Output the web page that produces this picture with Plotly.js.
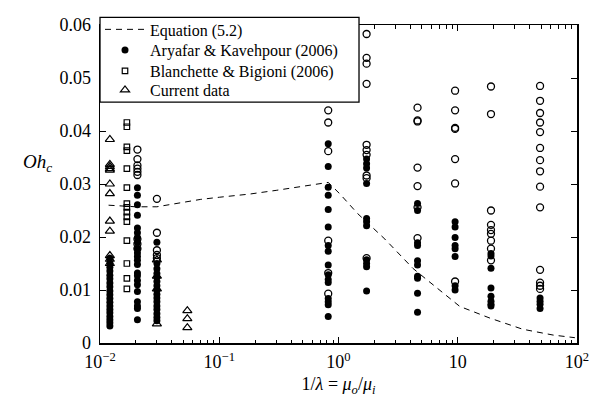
<!DOCTYPE html>
<html><head><meta charset="utf-8">
<script src="https://cdn.plot.ly/plotly-3.0.1.min.js"></script>
<style>html,body{margin:0;padding:0;background:#fff;}#chart{width:589px;height:409px;}</style>
</head><body><div id="chart"></div>
<script>
// Equation (5.2) curve
const eqX = [0.0118, 0.02, 0.03, 0.05, 0.07, 0.1, 0.18, 0.3, 0.5, 0.82, 1.03, 1.45, 2.45, 4.2, 5.6, 7.1, 10.4, 18.6, 35, 63, 96];
const eqY = [0.0260, 0.0257, 0.0257, 0.0265, 0.0271, 0.0275, 0.0281, 0.0288, 0.0296, 0.0303, 0.0281, 0.0244, 0.0196, 0.0141, 0.0118, 0.0099, 0.0069, 0.0047, 0.0026, 0.0015, 0.0010];

// Aryafar & Kavehpour (2006), filled circles
const akCols = [0.0121, 0.0206, 0.030, 0.82, 1.72, 4.6, 9.5, 19, 49];
const akVals = [
  [0.0160, 0.0151, 0.0143, 0.0136, 0.0128, 0.0121, 0.0113, 0.0106, 0.0098, 0.0091, 0.0084, 0.0077, 0.0070, 0.0063, 0.0057, 0.0050, 0.0044, 0.0038, 0.0032],
  [0.0293, 0.0279, 0.0261, 0.0241, 0.0217, 0.0208, 0.0199, 0.0190, 0.0178, 0.0170, 0.0163, 0.0156, 0.0148, 0.0132, 0.0127, 0.0118, 0.0110, 0.0097, 0.0078, 0.0070, 0.0065, 0.0044],
  [0.0190, 0.0150, 0.0140, 0.0131, 0.0124, 0.0116, 0.0108, 0.0100, 0.0092, 0.0085, 0.0078, 0.0070, 0.0063, 0.0055, 0.0048, 0.0042],
  [0.0376, 0.0333, 0.0294, 0.0279, 0.0252, 0.0219, 0.0184, 0.0173, 0.0147, 0.0129, 0.0120, 0.0114, 0.0084, 0.0078, 0.0072, 0.0050],
  [0.0347, 0.0338, 0.0330, 0.0301, 0.0235, 0.0229, 0.0221, 0.0157, 0.0150, 0.0144, 0.0098],
  [0.0263, 0.0250, 0.0189, 0.0184, 0.0155, 0.0147, 0.0126, 0.0122, 0.0094, 0.0058],
  [0.0229, 0.0219, 0.0199, 0.0184, 0.0178, 0.0163, 0.0108, 0.0100],
  [0.0169, 0.0164, 0.0141, 0.0104, 0.0088, 0.0079, 0.0073, 0.0070],
  [0.0085, 0.0079, 0.0073, 0.0065]
];

// Open circles (not in legend)
const openCols = [0.0206, 0.030, 0.82, 1.72, 4.6, 9.5, 19, 49];
const openVals = [
  [0.0365, 0.0347, 0.0335, 0.0329, 0.0323, 0.0317, 0.0196, 0.0187, 0.0178],
  [0.0272, 0.0208, 0.0175, 0.0166, 0.0160],
  [0.0439, 0.0416, 0.0362, 0.0193, 0.0132, 0.0093],
  [0.0583, 0.0538, 0.0527, 0.0489, 0.0374, 0.0364, 0.0355, 0.0316, 0.0311, 0.0160],
  [0.0444, 0.0420, 0.0418, 0.0331, 0.0296, 0.0256, 0.0198],
  [0.0476, 0.0439, 0.0406, 0.0404, 0.0347, 0.0301, 0.0116],
  [0.0484, 0.0432, 0.0250, 0.0223, 0.0213, 0.0206, 0.0193, 0.0178, 0.0156],
  [0.0485, 0.0457, 0.0434, 0.0416, 0.0398, 0.0368, 0.0345, 0.0324, 0.0295, 0.0256, 0.0138, 0.0114, 0.0108, 0.0102]
];

// Blanchette & Bigioni (2006), squares
const bbCols = [0.0168];
const bbVals = [
  [0.0416, 0.0408, 0.0370, 0.0363, 0.0329, 0.0293, 0.0263, 0.0256, 0.0247, 0.0238, 0.0229, 0.0193, 0.0150, 0.0122, 0.0102]
];

// Current data, triangles
const curCols = [0.0121, 0.030, 0.054];
const curVals = [
  [0.0384, 0.0337, 0.0333, 0.0329, 0.0326, 0.0300, 0.0282, 0.0230, 0.0211, 0.0165, 0.0158, 0.0150],
  [0.0157, 0.0126, 0.0102, 0.0036],
  [0.0061, 0.0046, 0.0029]
];

const xTickVals = [0.01, 0.1, 1, 10, 100];
const xTickText = ['10<sup>−2</sup>', '10<sup>−1</sup>', '10<sup>0</sup>', '10', '10<sup>2</sup>'];
const yTickVals = [0, 0.01, 0.02, 0.03, 0.04, 0.05, 0.06];
const yTickText = ['0', '0.01', '0.02', '0.03', '0.04', '0.05', '0.06'];

function flatten(cols, vals) {
  const xs = [], ys = [];
  cols.forEach((c, i) => vals[i].forEach(v => { xs.push(c); ys.push(v); }));
  return {x: xs, y: ys};
}
const minorX = [];
[0.01, 0.1, 1, 10].forEach(d => { for (let k = 2; k <= 9; k++) minorX.push(d * k); });

const FONT = 'Liberation Serif';
const ak = flatten(akCols, akVals), op = flatten(openCols, openVals), bb = flatten(bbCols, bbVals), cu = flatten(curCols, curVals);

const traces = [
  {x: op.x, y: op.y, mode: 'markers', name: 'open', showlegend: false,
   marker: {symbol: 'circle-open', size: 7, color: 'black', line: {width: 1.3, color: 'black'}}},
  {x: eqX, y: eqY, mode: 'lines', name: 'Equation (5.2)', legend: 'legend',
   line: {color: 'black', width: 1, dash: '6px,5px'}},
  {x: ak.x, y: ak.y, mode: 'markers', name: 'Aryafar &amp; Kavehpour (2006)', legend: 'legend2',
   marker: {symbol: 'circle', size: 7, color: 'black'}},
  {x: bb.x, y: bb.y, mode: 'markers', name: 'Blanchette &amp; Bigioni (2006)', legend: 'legend3',
   marker: {symbol: 'square-open', size: 5.5, color: 'black', line: {width: 1.2, color: 'black'}}},
  {x: cu.x, y: cu.y, mode: 'markers', name: 'Current data', legend: 'legend4',
   marker: {symbol: 'triangle-up-open', size: 8, color: 'black', line: {width: 1.2, color: 'black'}}}
];

function legendAt(yPaper) {
  return {x: 0, y: yPaper, xanchor: 'left', yanchor: 'middle', bgcolor: 'rgba(0,0,0,0)',
          borderwidth: 0, font: {family: FONT, size: 16, color: 'black'}, itemwidth: 40};
}

const layout = {
  width: 589, height: 409,
  margin: {l: 100, r: 12, t: 13, b: 66},
  paper_bgcolor: 'white', plot_bgcolor: 'white',
  font: {family: FONT, size: 17, color: 'black'},
  showlegend: true,
  legend: legendAt(0.986),
  legend2: legendAt(0.9212),
  legend3: legendAt(0.8555),
  legend4: legendAt(0.7955),
  shapes: [{type: 'rect', xref: 'paper', yref: 'paper', x0: 0, x1: 0.543, y0: 0.7576, y1: 1.0242,
            layer: 'above', fillcolor: 'white', line: {color: 'black', width: 1.3}}],
  xaxis: {type: 'log', range: [-2, 2], tickmode: 'array', tickvals: xTickVals, ticktext: xTickText,
          ticks: 'inside', ticklen: 6, tickwidth: 1, tickcolor: 'black',
          showline: true, linecolor: 'black', linewidth: 1.5, mirror: 'ticks',
          showgrid: false, zeroline: false, ticklabeloverflow: 'allow', ticklabelstandoff: 2,
          minor: {tickmode: 'array', tickvals: minorX, ticks: 'inside', ticklen: 3.5, tickwidth: 1, tickcolor: 'black', showgrid: false},
          tickfont: {family: FONT, size: 18},
          title: {text: '1/<i>λ</i> = <i>μ<sub>o</sub></i>/<i>μ<sub>i</sub></i>', font: {family: FONT, size: 18}, standoff: 6}},
  yaxis: {range: [0, 0.06], tickmode: 'array', tickvals: yTickVals, ticktext: yTickText,
          ticks: 'inside', ticklen: 6, tickwidth: 1, tickcolor: 'black',
          showline: true, linecolor: 'black', linewidth: 1.5, mirror: 'ticks',
          showgrid: false, zeroline: false, ticklabelstandoff: 4, tickfont: {family: FONT, size: 18}},
  annotations: [{xref: 'paper', yref: 'paper', x: -0.13, y: 0.565, xanchor: 'center', yanchor: 'middle',
                 showarrow: false, text: '<i>Oh<sub>c</sub></i>', font: {family: FONT, size: 19}}]
};
Plotly.newPlot('chart', traces, layout, {staticPlot: true, displayModeBar: false});
</script></body></html>
